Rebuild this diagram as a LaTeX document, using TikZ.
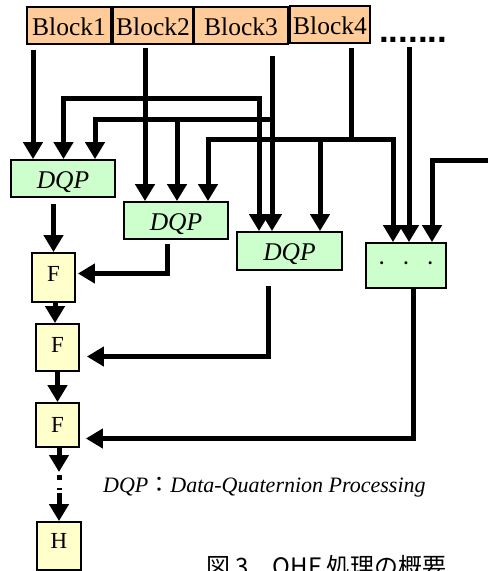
\documentclass[tikz,border=0pt]{standalone}
\usepackage{fontspec}
\setmainfont{Liberation Serif}
\newfontfamily\jpfont{Noto Sans CJK JP}
\newfontfamily\dotfont{Liberation Sans}
\usetikzlibrary{arrows.meta,calc}
\definecolor{blkfill}{HTML}{FFCC99}
\definecolor{dqpfill}{HTML}{CCFFCC}
\definecolor{ffill}{HTML}{FFFFCC}
\begin{document}
\begin{tikzpicture}[x=1pt,y=-1pt,
  box/.style={draw=black,line width=1.8pt,inner sep=0pt,text depth=0pt},
  blk/.style={box,fill=blkfill,minimum height=37pt,text height=19pt,font=\fontsize{25.5pt}{30pt}\selectfont},
  dqp/.style={box,fill=dqpfill,minimum width=104pt,minimum height=37pt,text height=19pt,font=\fontsize{25.5pt}{30pt}\selectfont\itshape},
  fb/.style={box,fill=ffill,minimum width=43pt,font=\fontsize{23pt}{28pt}\selectfont},
  conn/.style={line width=5pt,draw=black,line join=miter},
  arr/.style={conn,-{Triangle[width=19pt,length=17pt]}},
]
\useasboundingbox (0,0) rectangle (488,571);

% input blocks
\node[blk,minimum width=84pt] (b1) at (69,25.5) {Block1};
\node[blk,minimum width=80pt] (b2) at (153,25.5) {Block2};
\node[blk,minimum width=94pt] (b3) at (241,25.5) {Block3};
\node[blk,minimum width=80pt] (b4) at (330,24.5) {Block4};
\node[anchor=base west,inner sep=0pt,font={\fontsize{35pt}{40pt}\selectfont\dotfont\bfseries}] (more) at (379,42) {.......};

% DQP boxes
\node[dqp] (d1) at (63,178.5) {DQP};
\node[dqp] (d2) at (176,220.5) {DQP};
\node[dqp,minimum width=105pt,minimum height=38pt] (d3) at (289.5,251) {DQP};
\node[box,fill=dqpfill,minimum width=80pt,minimum height=45pt,text height=12pt,font=\fontsize{25pt}{30pt}\selectfont] (d4) at (406,265.5) {·\hspace{16pt}·\hspace{16pt}·};

% F / H boxes
\node[fb,minimum height=49pt,text height=7pt] (f1) at (53.5,277.5) {F};
\node[fb,minimum height=47pt,text height=9pt] (f2) at (57.5,347.5) {F};
\node[fb,minimum height=44pt,text height=14pt] (f3) at (57.5,425) {F};
\node[fb,minimum width=44pt,minimum height=48pt,text height=4pt] (h) at (59,546) {H};

% legend and caption
\node[anchor=base west,inner sep=0pt,font=\fontsize{22pt}{26pt}\selectfont\itshape] (leg) at (103,492) {DQP{\upshape\jpfont ：}Data-Quaternion Processing};
\node[anchor=base west,inner sep=0pt,font=\fontsize{24pt}{28pt}\selectfont\jpfont] (cap) at (206,575) {図 3　QHF 処理の概要};

% Block1
\draw[arr] ($(33,0 |- b1.south)+(0,5)$) -- (33,0 |- d1.north);
% Block2
\draw[arr] ($(145,0 |- b2.south)+(0,3)$) -- (145,0 |- d2.north);
\coordinate (j2) at (145,98);
\draw[arr] (j2) -| (63.5,0 |- d1.north);
\draw[arr] (j2) -| (259,0 |- d3.north);
% Block3
\draw[arr] ($(272,0 |- b3.south)+(0,11)$) -- (272,0 |- d3.north);
\coordinate (j3) at (272,119.5);
\coordinate (j3b) at (177,119.5);
\draw[arr] (j3) -| (95,0 |- d1.north);
\draw[arr] (j3b) -- (177,0 |- d2.north);
% Block4
\coordinate (j4) at (351,139.5);
\coordinate (j4b) at (320,139.5);
\draw[conn] ($(351,0 |- b4.south)+(0,4)$) -- (j4);
\draw[arr] (j4) -| (208,0 |- d2.north);
\draw[arr] (j4) -| (393,0 |- d4.north);
\draw[arr] (j4b) -- (320,0 |- d3.north);
% further blocks
\coordinate (s5) at (409,47);
\draw[arr] (s5) -- (409,0 |- d4.north);
\coordinate (s6) at (488,160);
\draw[arr] (s6) -| (432,0 |- d4.north);

% outputs
\draw[arr] ($(53.5,0 |- d1.south)+(0,6)$) -- (f1.north);
\draw[arr] ($(167,0 |- d2.south)+(0,4)$) |- ([xshift=2pt,yshift=4pt]f1.east);
\draw[arr] ($(268,0 |- d3.south)+(0,15)$) |- ([xshift=7pt,yshift=-9pt]f2.east);
\draw[arr] (413,0 |- d4.south) |- ([xshift=6pt,yshift=-13.5pt]f3.east);
\draw[arr] (55,0 |- f1.south) -- (55,0 |- f2.north);
\draw[arr] (57.5,0 |- f2.south) -- (57.5,0 |- f3.north);
\coordinate (c1) at (59,472);
\coordinate (c2) at (59,493);
\draw[arr] (59,0 |- f3.south) -- (c1);
\draw[conn] (59,475) -- (59,480);
\draw[conn] (59,488) -- (59,490);
\draw[arr] (c2) -- (59,0 |- h.north);
\end{tikzpicture}
\end{document}
